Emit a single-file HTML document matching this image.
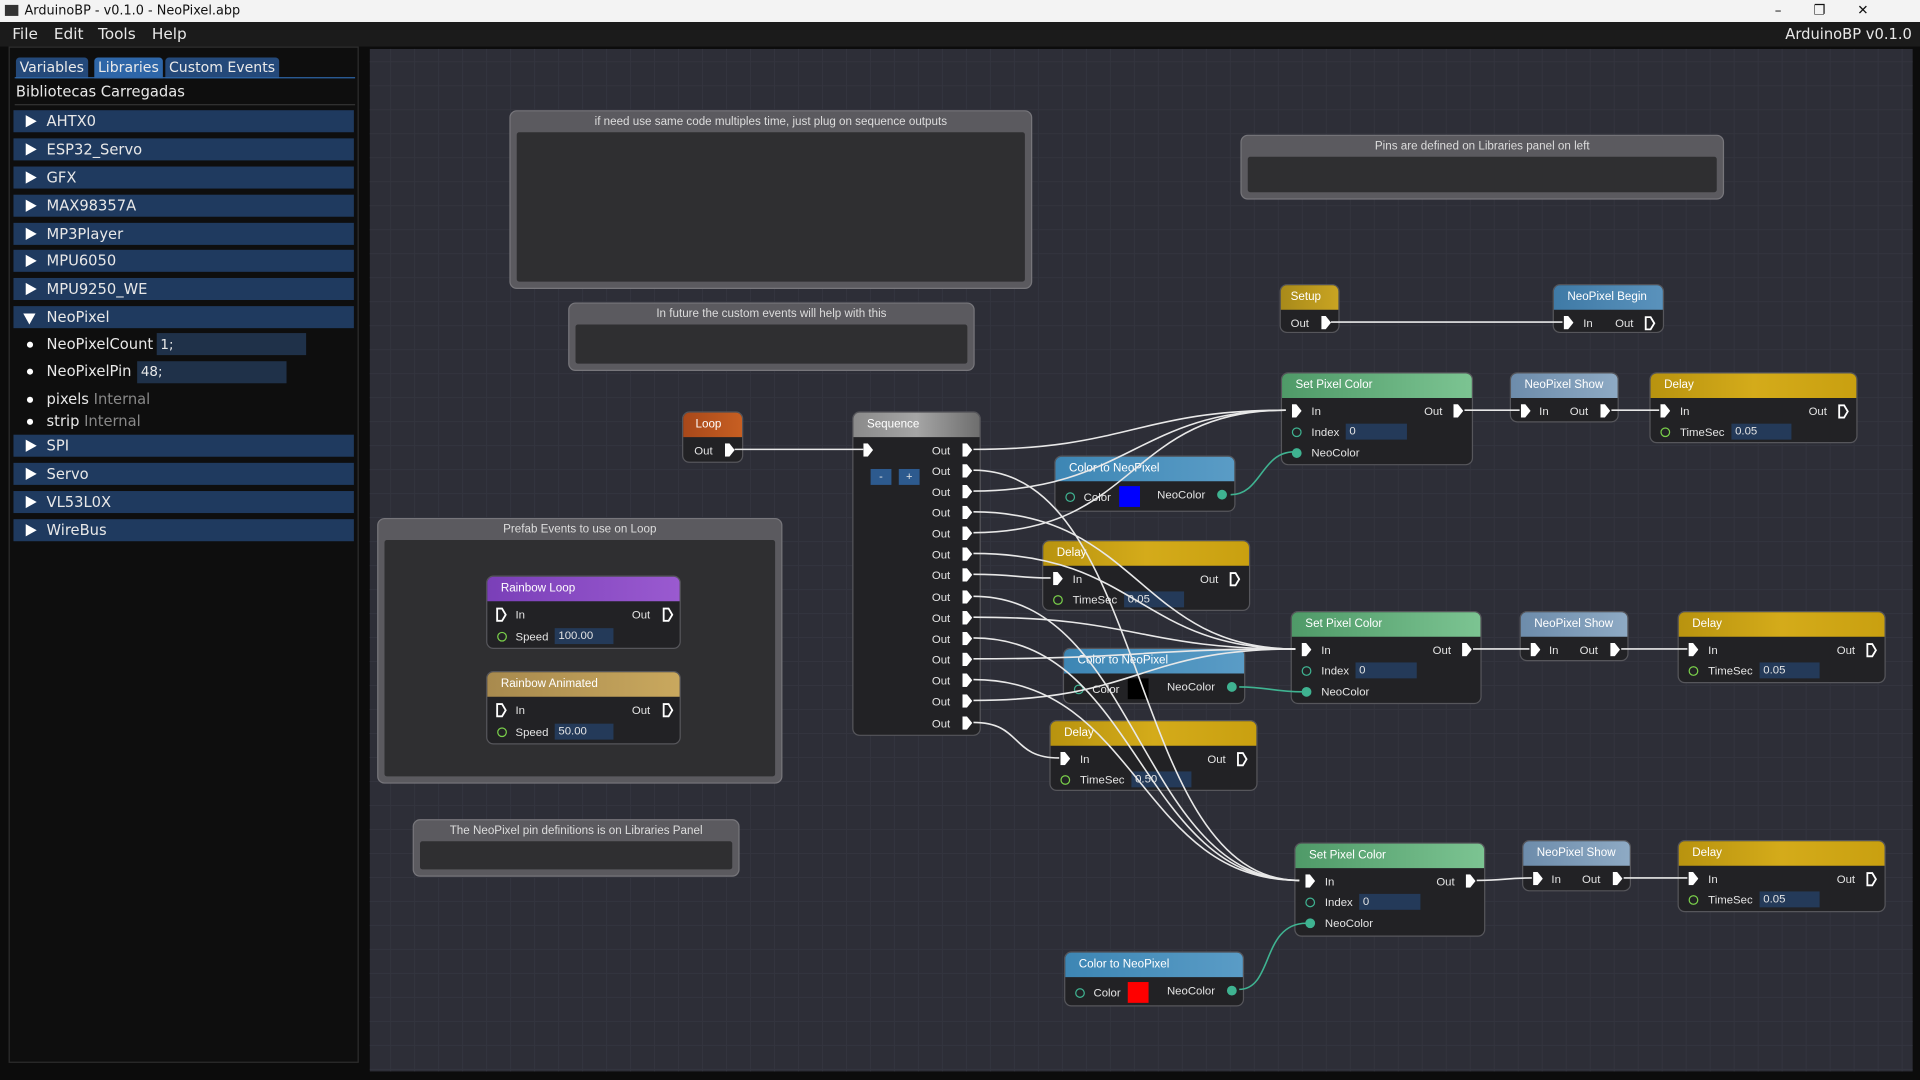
<!DOCTYPE html>
<html><head><meta charset="utf-8">
<style>
*{box-sizing:border-box;margin:0;padding:0}
html,body{width:1920px;height:1080px;overflow:hidden;background:#0c0c0c}
#w{position:absolute;left:0;top:0;width:1568px;height:882px;transform:scale(1.22449);transform-origin:0 0;font-family:"DejaVu Sans","Liberation Sans",sans-serif;color:#e8e8e8}
.a{position:absolute;white-space:nowrap}
#title{left:0;top:0;width:1568px;height:18px;background:#f3f3f3;color:#111;font-size:10.5px;line-height:18px;padding-left:20px}
#menu{left:0;top:18px;width:1568px;height:20px;background:#1b1b1b;font-size:12.5px;line-height:20px}
#left{left:7px;top:38px;width:286px;height:830px;background:#0e0e0e;border:1px solid #2e2e2e}
.tab{position:absolute;top:8px;height:17px;background:#24497a;border-radius:3px 3px 0 0;font-size:11.5px;line-height:17px;padding:0 3px;color:#eaeaea;white-space:nowrap}
.row{position:absolute;left:3px;width:278px;height:18px;background:#1f3a5f;font-size:12px;line-height:18px;padding-left:27px}
.row:before{content:"";position:absolute;left:10px;top:4px;border-left:9px solid #fff;border-top:5px solid transparent;border-bottom:5px solid transparent}
.row.o:before{left:8px;top:6px;border-top:9px solid #fff;border-left:5px solid transparent;border-right:5px solid transparent;border-bottom:0}
.li{position:absolute;left:14px;font-size:12px;line-height:16px;padding-left:16px}
.li:before{content:"";position:absolute;left:0;top:6px;width:5px;height:5px;border-radius:50%;background:#fff}
.gr{color:#888}
#canvas{left:302px;top:40px;width:1260px;height:835px;background-color:#2d2e37;background-image:linear-gradient(#33343e 1px,transparent 1px),linear-gradient(90deg,#33343e 1px,transparent 1px);background-size:19.6px 19.6px;background-position:-3px 10px}
.cm{position:absolute;background:#5b5a5f;border:1.5px solid #77767b;border-radius:6px;font-family:"Liberation Sans",sans-serif}
.cm .ct{position:absolute;left:0;right:0;top:3px;text-align:center;font-size:9.5px;color:#ddd}
.cm .cb{position:absolute;left:5px;right:5px;top:17px;bottom:5px;background:#2f2f31;border-radius:2px}
.n{position:absolute;background:#222225;border:1px solid #56565b;border-radius:6px;font-size:9.3px;color:#e4e4e4;font-family:"Liberation Sans",sans-serif}
.h{position:absolute;left:0;right:0;top:0;height:20px;border-radius:5px 5px 0 0;padding-left:11px;line-height:20px;font-size:9.5px;color:#fff;white-space:nowrap}
.t{position:absolute;line-height:12px;white-space:nowrap}
.ex{position:absolute;width:8px;height:11px;background:#fff;clip-path:polygon(0 0,45% 0,100% 50%,45% 100%,0 100%)}
.ho{position:absolute;width:9px;height:12px}
.dp{position:absolute;width:8px;height:8px;border-radius:50%;border:1.5px solid #7ad04a}
.dp.tl{border-color:#3fb391}
.dp.f{background:#3fb391;border-color:#3fb391}
.inp{position:absolute;height:13px;background:#243a59;line-height:13px;padding-left:3px;font-size:9.3px}
.sw{position:absolute;width:17px;height:17px}
.btn{position:absolute;width:17px;height:13px;background:#2d5a8e;font-size:9px;text-align:center;line-height:12px}
svg{position:absolute;left:0;top:0}
</style></head><body><div id="w">
<div id="title" class="a"><span style="position:absolute;left:4px;top:4px;width:11px;height:9px;background:#333"></span>ArduinoBP - v0.1.0 - NeoPixel.abp<span style="position:absolute;right:16px;top:0;font-size:11px;letter-spacing:26px">–❐✕</span></div>
<div id="menu" class="a"><span style="position:absolute;left:10px">File</span><span style="position:absolute;left:44px">Edit</span><span style="position:absolute;left:80px">Tools</span><span style="position:absolute;left:124px">Help</span><span style="position:absolute;left:1458px;white-space:nowrap;font-size:12px">ArduinoBP v0.1.0</span></div>
<div id="left" class="a">
<div class="tab" style="left:5px">Variables</div>
<div class="tab" style="left:69px;background:#2e66a8">Libraries</div>
<div class="tab" style="left:127px">Custom Events</div>
<div class="a" style="left:4px;top:24px;width:278px;height:1px;background:#2e66a8"></div>
<div class="a" style="left:5px;top:29px;font-size:12px">Bibliotecas Carregadas</div>
<div class="a" style="left:4px;top:46px;width:278px;height:1px;background:#333"></div>
<div class="row" style="top:51px">AHTX0</div>
<div class="row" style="top:74px">ESP32_Servo</div>
<div class="row" style="top:97px">GFX</div>
<div class="row" style="top:120px">MAX98357A</div>
<div class="row" style="top:143px">MP3Player</div>
<div class="row" style="top:165px">MPU6050</div>
<div class="row" style="top:188px">MPU9250_WE</div>
<div class="row o" style="top:211px">NeoPixel</div>
<div class="li" style="top:234px">NeoPixelCount</div>
<div class="inp" style="left:120px;top:233px;width:122px;height:18px;line-height:20px;font-size:11px;background:#1f3149">1;</div>
<div class="li" style="top:256px">NeoPixelPin</div>
<div class="inp" style="left:104px;top:256px;width:122px;height:18px;line-height:18px;font-size:11px;background:#1f3149">48;</div>
<div class="li" style="top:279px">pixels <span class="gr">Internal</span></div>
<div class="li" style="top:297px">strip <span class="gr">Internal</span></div>
<div class="row" style="top:316px">SPI</div>
<div class="row" style="top:339px">Servo</div>
<div class="row" style="top:362px">VL53L0X</div>
<div class="row" style="top:385px">WireBus</div>
</div>
<div id="canvas" class="a"></div>

<div class="cm" style="left:416px;top:90px;width:427px;height:146px"><div class="ct">if need use same code multiples time, just plug on sequence outputs</div><div class="cb"></div></div>
<div class="cm" style="left:464px;top:247px;width:332px;height:56px"><div class="ct">In future the custom events will help with this</div><div class="cb"></div></div>
<div class="cm" style="left:1013px;top:110px;width:395px;height:53px"><div class="ct">Pins are defined on Libraries panel on left</div><div class="cb"></div></div>
<div class="cm" style="left:308px;top:423px;width:331px;height:217px"><div class="ct">Prefab Events to use on Loop</div><div class="cb"></div></div>
<div class="cm" style="left:337px;top:669px;width:267px;height:47px"><div class="ct">The NeoPixel pin definitions is on Libraries Panel</div><div class="cb"></div></div>

<div class="n" style="left:397px;top:470px;width:159px;height:60px"><div class="h" style="background:linear-gradient(90deg,#7a3fb8,#9a5ad0)">Rainbow Loop</div>
<svg class="ho" style="left:7px;top:25px" viewBox="0 0 9 12"><path d="M1 1H5L8 6L5 11H1Z" fill="none" stroke="#fff" stroke-width="1.5"/></svg><div class="t" style="left:23px;top:25px">In</div><div class="t" style="left:118px;top:25px">Out</div>
<svg class="ho" style="left:143px;top:25px" viewBox="0 0 9 12"><path d="M1 1H5L8 6L5 11H1Z" fill="none" stroke="#fff" stroke-width="1.5"/></svg>
<div class="dp" style="left:8px;top:45px"></div><div class="t" style="left:23px;top:43px">Speed</div><div class="inp" style="left:55px;top:42px;width:48px">100.00</div></div>
<div class="n" style="left:397px;top:548px;width:159px;height:60px"><div class="h" style="background:linear-gradient(90deg,#a88a4e,#c9a85e)">Rainbow Animated</div>
<svg class="ho" style="left:7px;top:25px" viewBox="0 0 9 12"><path d="M1 1H5L8 6L5 11H1Z" fill="none" stroke="#fff" stroke-width="1.5"/></svg><div class="t" style="left:23px;top:25px">In</div><div class="t" style="left:118px;top:25px">Out</div>
<svg class="ho" style="left:143px;top:25px" viewBox="0 0 9 12"><path d="M1 1H5L8 6L5 11H1Z" fill="none" stroke="#fff" stroke-width="1.5"/></svg>
<div class="dp" style="left:8px;top:45px"></div><div class="t" style="left:23px;top:43px">Speed</div><div class="inp" style="left:55px;top:42px;width:48px">50.00</div></div>

<div class="n" style="left:1045px;top:232px;width:49px;height:40px"><div class="h" style="background:linear-gradient(90deg,#a88a1a,#c9a422);padding-left:8px">Setup</div><div class="t" style="left:8px;top:25px">Out</div><div class="ex" style="left:33px;top:25px"></div></div>
<div class="n" style="left:1268px;top:232px;width:91px;height:40px"><div class="h" style="background:linear-gradient(90deg,#3f7aa6,#5a92bc)">NeoPixel Begin</div><div class="ex" style="left:8px;top:25px"></div><div class="t" style="left:24px;top:25px">In</div><div class="t" style="left:50px;top:25px">Out</div>
<svg class="ho" style="left:74px;top:25px" viewBox="0 0 9 12"><path d="M1 1H5L8 6L5 11H1Z" fill="none" stroke="#fff" stroke-width="1.5"/></svg></div>

<div class="n" style="left:557px;top:336px;width:50px;height:42px"><div class="h" style="background:linear-gradient(90deg,#a8481a,#c75f22);padding-left:10px">Loop</div><div class="t" style="left:9px;top:25px">Out</div><div class="ex" style="left:34px;top:25px"></div></div>

<div class="n" style="left:696px;top:336px;width:105px;height:265px"><div class="h" style="background:linear-gradient(90deg,#8a8a8a,#a5a5a5,#6e6e6e)">Sequence</div>
<div class="ex" style="left:8px;top:25px"></div>
<div class="btn" style="left:14px;top:46px">-</div><div class="btn" style="left:37px;top:46px">+</div>
<div class="t" style="left:64px;top:25px">Out</div><div class="ex" style="left:89px;top:25px"></div>
<div class="t" style="left:64px;top:42px">Out</div><div class="ex" style="left:89px;top:42px"></div>
<div class="t" style="left:64px;top:59px">Out</div><div class="ex" style="left:89px;top:59px"></div>
<div class="t" style="left:64px;top:76px">Out</div><div class="ex" style="left:89px;top:76px"></div>
<div class="t" style="left:64px;top:93px">Out</div><div class="ex" style="left:89px;top:93px"></div>
<div class="t" style="left:64px;top:110px">Out</div><div class="ex" style="left:89px;top:110px"></div>
<div class="t" style="left:64px;top:127px">Out</div><div class="ex" style="left:89px;top:127px"></div>
<div class="t" style="left:64px;top:145px">Out</div><div class="ex" style="left:89px;top:145px"></div>
<div class="t" style="left:64px;top:162px">Out</div><div class="ex" style="left:89px;top:162px"></div>
<div class="t" style="left:64px;top:179px">Out</div><div class="ex" style="left:89px;top:179px"></div>
<div class="t" style="left:64px;top:196px">Out</div><div class="ex" style="left:89px;top:196px"></div>
<div class="t" style="left:64px;top:213px">Out</div><div class="ex" style="left:89px;top:213px"></div>
<div class="t" style="left:64px;top:230px">Out</div><div class="ex" style="left:89px;top:230px"></div>
<div class="t" style="left:64px;top:248px">Out</div><div class="ex" style="left:89px;top:248px"></div>
</div>

<div class="n" style="left:1046px;top:304px;width:157px;height:76px"><div class="h" style="background:linear-gradient(90deg,#4f9a68,#7cc492)">Set Pixel Color</div>
<div class="ex" style="left:8px;top:25px"></div><div class="t" style="left:24px;top:25px">In</div><div class="t" style="left:116px;top:25px">Out</div><div class="ex" style="left:140px;top:25px"></div>
<div class="dp tl" style="left:8px;top:44px"></div><div class="t" style="left:24px;top:42px">Index</div><div class="inp" style="left:52px;top:41px;width:50px">0</div>
<div class="dp f" style="left:8px;top:61px"></div><div class="t" style="left:24px;top:59px">NeoColor</div></div>
<div class="n" style="left:1054px;top:499px;width:156px;height:76px"><div class="h" style="background:linear-gradient(90deg,#4f9a68,#7cc492)">Set Pixel Color</div>
<div class="ex" style="left:8px;top:25px"></div><div class="t" style="left:24px;top:25px">In</div><div class="t" style="left:115px;top:25px">Out</div><div class="ex" style="left:139px;top:25px"></div>
<div class="dp tl" style="left:8px;top:44px"></div><div class="t" style="left:24px;top:42px">Index</div><div class="inp" style="left:52px;top:41px;width:50px">0</div>
<div class="dp f" style="left:8px;top:61px"></div><div class="t" style="left:24px;top:59px">NeoColor</div></div>
<div class="n" style="left:1057px;top:688px;width:156px;height:77px"><div class="h" style="background:linear-gradient(90deg,#4f9a68,#7cc492)">Set Pixel Color</div>
<div class="ex" style="left:8px;top:25px"></div><div class="t" style="left:24px;top:25px">In</div><div class="t" style="left:115px;top:25px">Out</div><div class="ex" style="left:139px;top:25px"></div>
<div class="dp tl" style="left:8px;top:44px"></div><div class="t" style="left:24px;top:42px">Index</div><div class="inp" style="left:52px;top:41px;width:50px">0</div>
<div class="dp f" style="left:8px;top:61px"></div><div class="t" style="left:24px;top:59px">NeoColor</div></div>

<div class="n" style="left:1233px;top:304px;width:89px;height:41px"><div class="h" style="background:linear-gradient(90deg,#6d8cab,#8eaac4)">NeoPixel Show</div><div class="ex" style="left:8px;top:25px"></div><div class="t" style="left:23px;top:25px">In</div><div class="t" style="left:48px;top:25px">Out</div><div class="ex" style="left:73px;top:25px"></div></div>
<div class="n" style="left:1241px;top:499px;width:89px;height:41px"><div class="h" style="background:linear-gradient(90deg,#6d8cab,#8eaac4)">NeoPixel Show</div><div class="ex" style="left:8px;top:25px"></div><div class="t" style="left:23px;top:25px">In</div><div class="t" style="left:48px;top:25px">Out</div><div class="ex" style="left:73px;top:25px"></div></div>
<div class="n" style="left:1243px;top:686px;width:89px;height:42px"><div class="h" style="background:linear-gradient(90deg,#6d8cab,#8eaac4)">NeoPixel Show</div><div class="ex" style="left:8px;top:25px"></div><div class="t" style="left:23px;top:25px">In</div><div class="t" style="left:48px;top:25px">Out</div><div class="ex" style="left:73px;top:25px"></div></div>

<div class="n" style="left:1347px;top:304px;width:170px;height:58px"><div class="h" style="background:linear-gradient(90deg,#b8930f,#d4ab1a,#c9a010)">Delay</div><div class="ex" style="left:8px;top:25px"></div><div class="t" style="left:24px;top:25px">In</div><div class="t" style="left:129px;top:25px">Out</div><svg class="ho" style="left:153px;top:25px" viewBox="0 0 9 12"><path d="M1 1H5L8 6L5 11H1Z" fill="none" stroke="#fff" stroke-width="1.5"/></svg><div class="dp" style="left:8px;top:44px"></div><div class="t" style="left:24px;top:42px">TimeSec</div><div class="inp" style="left:66px;top:41px;width:49px">0.05</div></div>
<div class="n" style="left:851px;top:441px;width:170px;height:58px"><div class="h" style="background:linear-gradient(90deg,#b8930f,#d4ab1a,#c9a010)">Delay</div><div class="ex" style="left:8px;top:25px"></div><div class="t" style="left:24px;top:25px">In</div><div class="t" style="left:128px;top:25px">Out</div><svg class="ho" style="left:152px;top:25px" viewBox="0 0 9 12"><path d="M1 1H5L8 6L5 11H1Z" fill="none" stroke="#fff" stroke-width="1.5"/></svg><div class="dp" style="left:8px;top:44px"></div><div class="t" style="left:24px;top:42px">TimeSec</div><div class="inp" style="left:66px;top:41px;width:49px">0.05</div></div>
<div class="n" style="left:1370px;top:499px;width:170px;height:59px"><div class="h" style="background:linear-gradient(90deg,#b8930f,#d4ab1a,#c9a010)">Delay</div><div class="ex" style="left:8px;top:25px"></div><div class="t" style="left:24px;top:25px">In</div><div class="t" style="left:129px;top:25px">Out</div><svg class="ho" style="left:153px;top:25px" viewBox="0 0 9 12"><path d="M1 1H5L8 6L5 11H1Z" fill="none" stroke="#fff" stroke-width="1.5"/></svg><div class="dp" style="left:8px;top:44px"></div><div class="t" style="left:24px;top:42px">TimeSec</div><div class="inp" style="left:66px;top:41px;width:49px">0.05</div></div>
<div class="n" style="left:857px;top:588px;width:170px;height:58px"><div class="h" style="background:linear-gradient(90deg,#b8930f,#d4ab1a,#c9a010)">Delay</div><div class="ex" style="left:8px;top:25px"></div><div class="t" style="left:24px;top:25px">In</div><div class="t" style="left:128px;top:25px">Out</div><svg class="ho" style="left:152px;top:25px" viewBox="0 0 9 12"><path d="M1 1H5L8 6L5 11H1Z" fill="none" stroke="#fff" stroke-width="1.5"/></svg><div class="dp" style="left:8px;top:44px"></div><div class="t" style="left:24px;top:42px">TimeSec</div><div class="inp" style="left:66px;top:41px;width:49px">0.50</div></div>
<div class="n" style="left:1370px;top:686px;width:170px;height:59px"><div class="h" style="background:linear-gradient(90deg,#b8930f,#d4ab1a,#c9a010)">Delay</div><div class="ex" style="left:8px;top:25px"></div><div class="t" style="left:24px;top:25px">In</div><div class="t" style="left:129px;top:25px">Out</div><svg class="ho" style="left:153px;top:25px" viewBox="0 0 9 12"><path d="M1 1H5L8 6L5 11H1Z" fill="none" stroke="#fff" stroke-width="1.5"/></svg><div class="dp" style="left:8px;top:44px"></div><div class="t" style="left:24px;top:42px">TimeSec</div><div class="inp" style="left:66px;top:41px;width:49px">0.05</div></div>

<div class="n" style="left:861px;top:372px;width:148px;height:46px"><div class="h" style="background:linear-gradient(90deg,#3d86b4,#5a9cc6)">Color to NeoPixel</div><div class="dp tl" style="left:8px;top:29px"></div><div class="t" style="left:23px;top:27px">Color</div><div class="sw" style="left:52px;top:24px;background:#0000ff"></div><div class="t" style="left:83px;top:25px">NeoColor</div><div class="dp f" style="left:132px;top:27px"></div></div>
<div class="n" style="left:868px;top:529px;width:149px;height:46px"><div class="h" style="background:linear-gradient(90deg,#3d86b4,#5a9cc6)">Color to NeoPixel</div><div class="dp tl" style="left:8px;top:29px"></div><div class="t" style="left:23px;top:27px">Color</div><div class="sw" style="left:52px;top:24px;background:#000"></div><div class="t" style="left:84px;top:25px">NeoColor</div><div class="dp f" style="left:133px;top:27px"></div></div>
<div class="n" style="left:869px;top:777px;width:147px;height:45px"><div class="h" style="background:linear-gradient(90deg,#3d86b4,#5a9cc6)">Color to NeoPixel</div><div class="dp tl" style="left:8px;top:29px"></div><div class="t" style="left:23px;top:27px">Color</div><div class="sw" style="left:51px;top:24px;background:#f00"></div><div class="t" style="left:83px;top:25px">NeoColor</div><div class="dp f" style="left:132px;top:27px"></div></div>

<svg width="1568" height="882" viewBox="0 0 1568 882" fill="none" stroke-width="1.3">
<g stroke="#e8e8e8">
<path d="M600 367H705"/>
<path d="M1087 263H1276"/>
<path d="M1196 335H1241M1316 335H1355"/>
<path d="M1203 530H1249M1324 530H1378"/>
<path d="M1206 719C1230 719 1228 717 1251 717M1326 717H1378"/>
<path d="M795 367C920 367 930 335 1050 335"/>
<path d="M795 401C920 401 930 335 1050 335"/>
<path d="M795 435C930 435 920 335 1050 335"/>
<path d="M795 418C930 418 930 530 1058 530"/>
<path d="M795 452C930 452 930 530 1058 530"/>
<path d="M795 504C930 504 930 530 1058 530"/>
<path d="M795 538C930 538 930 530 1058 530"/>
<path d="M795 572C930 572 930 530 1058 530"/>
<path d="M795 469C830 469 830 472 858 472"/>
<path d="M795 590C835 590 825 619 865 619"/>
<path d="M795 384C940 384 920 719 1061 719"/>
<path d="M795 487C930 487 930 719 1061 719"/>
<path d="M795 521C930 521 930 719 1061 719"/>
<path d="M795 555C930 555 930 719 1061 719"/>
</g>
<g stroke="#3fb391">
<path d="M1005 404C1030 404 1030 369 1057 369"/>
<path d="M1012 561C1035 561 1040 565 1064 565"/>
<path d="M1012 808C1040 808 1030 754 1067 754"/>
</g>
</svg>
</div></body></html>
